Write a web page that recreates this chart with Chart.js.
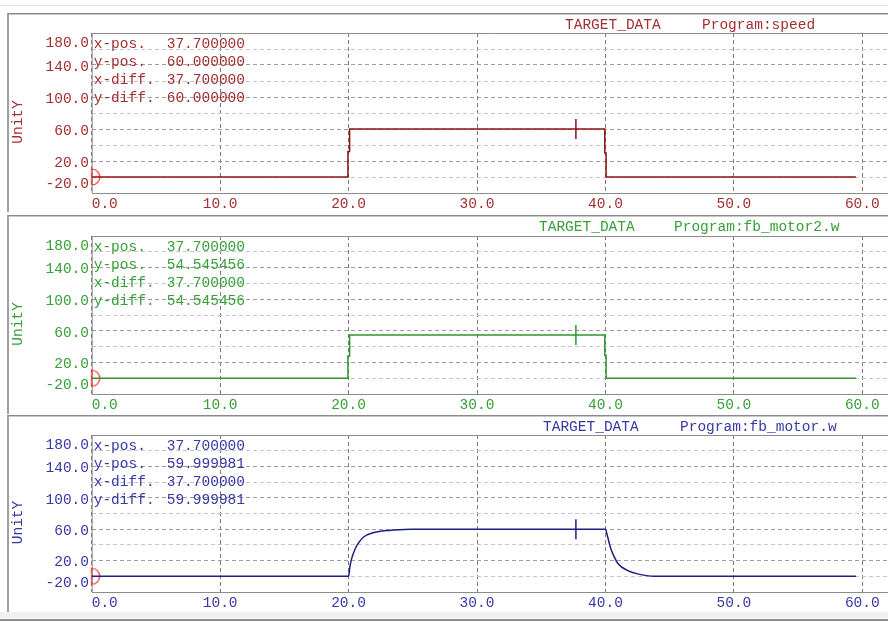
<!DOCTYPE html>
<html>
<head>
<meta charset="utf-8">
<script src="https://cdn.jsdelivr.net/npm/chart.js@4"></script>
<style>
  html, body { margin: 0; padding: 0; background: #fff; overflow: hidden; }
  body { width: 888px; height: 622px; position: relative; }
  .topline { position: absolute; left: 0; top: 5px; width: 888px; height: 1px; background: #e2e2e2; }
  .panel { position: absolute; left: 7px; width: 900px; height: 198px;
           border-top: 1px solid #8a8a8a; border-left: 2px solid #a0a0a0;
           box-shadow: inset 0 1px 0 #c8c8c8; }
  .foot { position: absolute; left: 0; top: 612px; width: 888px; height: 6px; background: #f0f0f0; }
  .footline { position: absolute; left: 0; top: 619px; width: 888px; height: 2px; background: #8c8c8c; }
  canvas { position: absolute; left: 0; }
</style>
</head>
<body>
<div class="topline"></div>
<div class="panel" style="top:13px"></div>
<div class="panel" style="top:215px"></div>
<div class="panel" style="top:415px"></div>
<div class="foot"></div>
<div class="footline"></div>
<canvas id="c0" width="888" height="200" style="top:13px"></canvas>
<canvas id="c1" width="888" height="200" style="top:215px"></canvas>
<canvas id="c2" width="888" height="200" style="top:415px"></canvas>
<script>
// axis ticks
const xTicks = [0, 10, 20, 30, 40, 50, 60];
const yLabels = [180, 140, 100, 60, 20, -20];

// speed (top)
const timeSpeed = [0, 19.95, 19.95, 20.08, 20.08, 39.95, 39.95, 40.05, 40.05, 59.5];
const speed = [0, 0, 32, 32, 60, 60, 30, 30, 0, 0];

// fb_motor2.w (middle)
const timeMotor2 = [0, 19.95, 19.95, 20.08, 20.08, 39.95, 39.95, 40.05, 40.05, 59.5];
const motor2 = [0, 0, 28, 28, 54.545456, 54.545456, 29, 29, 0, 0];

// fb_motor.w (bottom)
const timeMotor = [0, 20, 20.1, 20.2, 20.35, 20.6, 20.8, 21.1, 21.4, 21.9, 22.5, 23.2, 24.9,
                   40, 40.13, 40.4, 40.65, 41, 41.7, 42.5, 43.8, 59.5];
const motor = [0, 0, 12, 20, 28, 38, 43, 49, 52.5, 55.6, 57.5, 58.5, 60,
               60, 53, 36, 26, 15.6, 7.6, 3.1, 0, 0];

// cursor readout
const cursorX = 37.7;
const cursorY = [60.000000, 54.545456, 59.999981];
const programs = ['speed', 'fb_motor2.w', 'fb_motor.w'];

const FONT = '14.5px "Liberation Mono", "DejaVu Sans Mono", monospace';

// red half-circle marker at the origin
const originMark = document.createElement('canvas');
originMark.width = 20; originMark.height = 20;
(function () {
    const g = originMark.getContext('2d');
    g.strokeStyle = '#ff2a2a';
    g.lineWidth = 1.2;
    g.beginPath();
    g.arc(10, 10, 8, -Math.PI / 2, Math.PI / 2);
    g.closePath();
    g.stroke();
})();

const panelDeco = {
    id: 'panelDeco',
    beforeDatasetsDraw(chart, args, o) {
        const { ctx, chartArea: a } = chart;
        ctx.save();
        ctx.strokeStyle = '#8c8c8c';
        ctx.lineWidth = 1;
        ctx.beginPath();
        ctx.moveTo(chart.width, a.top + 0.5);
        ctx.lineTo(a.left + 0.5, a.top + 0.5);
        ctx.lineTo(a.left + 0.5, a.bottom + 0.5);
        ctx.lineTo(chart.width, a.bottom + 0.5);
        ctx.stroke();
        ctx.restore();
    },
    afterDraw(chart, args, o) {
        const { ctx, chartArea: a } = chart;
        const xs = chart.scales.x, ys = chart.scales.y;
        ctx.save();
        ctx.font = FONT;
        ctx.fillStyle = o.textColor;

        // y tick labels
        ctx.textAlign = 'right';
        ctx.textBaseline = 'middle';
        yLabels.forEach(v => {
            let py = ys.getPixelForValue(v) + 2;
            py = Math.min(Math.max(py, a.top + 10), a.bottom - 9);
            ctx.fillText(v.toFixed(1), 89, py);
        });

        // x tick labels
        xTicks.forEach(v => {
            const px = xs.getPixelForValue(v);
            const s = v.toFixed(1);
            const w = ctx.measureText(s).width;
            ctx.textAlign = (px - w / 2 < a.left) ? 'left' : 'center';
            ctx.fillText(s, px, a.bottom + 11);
        });

        // axis title
        ctx.save();
        ctx.translate(18, (a.top + a.bottom) / 2 + 9);
        ctx.rotate(-Math.PI / 2);
        ctx.textAlign = 'center';
        ctx.fillText('UnitY', 0, 0);
        ctx.restore();

        // header
        ctx.textAlign = 'left';
        ctx.fillText('TARGET_DATA', o.headX, 12);
        ctx.fillText('Program:' + o.program, o.progX, 12);

        // cursor readout
        const rows = [
            ['x-pos.', cursorX], ['y-pos.', o.yPos],
            ['x-diff.', cursorX], ['y-diff.', o.yPos]
        ];
        rows.forEach((r, i) => {
            const py = a.top + 11 + i * 18;
            ctx.fillText(r[0], a.left + 2, py);
            ctx.fillText(r[1].toFixed(6), a.left + 75, py);
        });
        ctx.restore();
    }
};

function makePanel(id, times, values, idx, cfg) {
    const data = times.map((t, i) => ({ x: t, y: values[i] }));
    new Chart(document.getElementById(id), {
        type: 'line',
        data: {
            datasets: [
                {
                    data: data,
                    borderColor: cfg.lineColor,
                    borderWidth: 1.5,
                    pointRadius: 0,
                    fill: false,
                    cubicInterpolationMode: cfg.smooth ? 'monotone' : 'default',
                    tension: 0
                },
                {
                    data: [{ x: cursorX, y: cursorY[idx] }],
                    showLine: false,
                    pointStyle: 'line',
                    rotation: 90,
                    pointRadius: 10,
                    borderColor: cfg.lineColor,
                    borderWidth: 1.5
                },
                {
                    data: [{ x: 0, y: 0 }],
                    showLine: false,
                    pointStyle: originMark,
                    pointRadius: 8,
                    clip: false
                }
            ]
        },
        options: {
            responsive: false,
            animation: false,
            devicePixelRatio: 1,
            layout: {
                autoPadding: false,
                padding: { left: 91.7, right: 0, top: cfg.padTop, bottom: cfg.padBottom }
            },
            plugins: {
                legend: { display: false },
                tooltip: { enabled: false },
                panelDeco: {
                    textColor: cfg.textColor,
                    program: programs[idx],
                    headX: cfg.headX,
                    progX: cfg.progX,
                    yPos: cursorY[idx]
                }
            },
            scales: {
                x: {
                    type: 'linear',
                    min: 0,
                    max: 62,
                    afterBuildTicks: s => { s.ticks = xTicks.map(v => ({ value: v })); },
                    ticks: { display: false },
                    grid: { color: '#7a7a7a', lineWidth: 1, drawTicks: false },
                    border: { display: false, dash: [4, 3] }
                },
                y: {
                    type: 'linear',
                    min: -20,
                    max: 180,
                    ticks: { display: false, stepSize: 20 },
                    grid: {
                        color: c => yLabels.includes(c.tick.value) ? '#9c9c9c' : '#c6c6c6',
                        lineWidth: 1,
                        drawTicks: false
                    },
                    border: { display: false, dash: [4, 3] }
                }
            }
        },
        plugins: [panelDeco]
    });
}

makePanel('c0', timeSpeed, speed, 0, {
    lineColor: '#8c1212', textColor: '#a33030', headX: 565, progX: 702, padTop: 20, padBottom: 20
});
makePanel('c1', timeMotor2, motor2, 1, {
    lineColor: '#2f962f', textColor: '#37a037', headX: 539, progX: 674, padTop: 21, padBottom: 21
});
makePanel('c2', timeMotor, motor, 2, {
    lineColor: '#1e1e84', textColor: '#3838a6', headX: 543, progX: 680, padTop: 20, padBottom: 23, smooth: true
});
</script>
</body>
</html>
